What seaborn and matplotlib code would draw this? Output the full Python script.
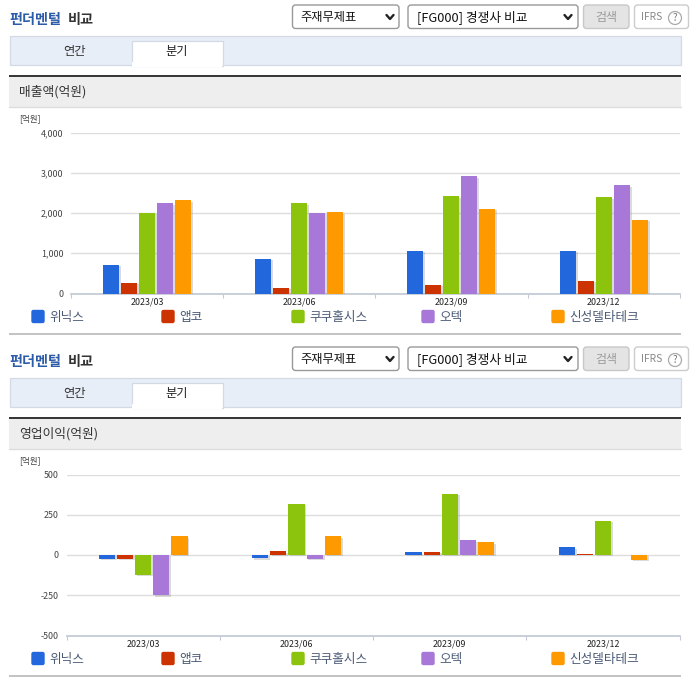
import matplotlib
matplotlib.use("Agg")
import matplotlib.pyplot as plt
import matplotlib.patheffects as pe
from matplotlib.patches import FancyBboxPatch, Rectangle, Circle
import numpy as np
import pandas as pd
import seaborn as sns

sns.set_theme(style="white")
plt.rcParams['font.family'] = ['Noto Sans CJK KR', 'DejaVu Sans']

# Data
quarters = ["2023/03", "2023/06", "2023/09", "2023/12"]
companies = ["위닉스", "앱코", "쿠쿠홀시스", "오텍", "신성델타테크"]
colors = ["#2268DC", "#CC3300", "#8BC30D", "#A878D8", "#FF9900"]

sales_winix = [710, 870, 1065, 1065]
sales_abko = [265, 140, 210, 310]
sales_cuckoo = [2000, 2240, 2420, 2390]
sales_otec = [2240, 2000, 2920, 2690]
sales_shinsung = [2320, 2020, 2110, 1835]

profit_winix = [-22, -20, 17, 48]
profit_abko = [-25, 23, 18, 5]
profit_cuckoo = [-122, 317, 381, 212]
profit_otec = [-250, -25, 92, np.nan]
profit_shinsung = [117, 117, 79, -31]

sales_ticks = [0, 1000, 2000, 3000, 4000]
profit_ticks = [-500, -250, 0, 250, 500]

W, H = 696, 684


def make_frame(series):
    rows = []
    for name, vals in zip(companies, series):
        for q, v in zip(quarters, vals):
            rows.append({"quarter": q, "company": name, "value": v})
    return pd.DataFrame(rows)


def round_box(ax, x, y, w, h, fc="white", ec="#aaaaaa", r=3):
    ax.add_patch(FancyBboxPatch((x + r, y + r), w - 2 * r, h - 2 * r,
                                boxstyle=f"round,pad={r},rounding_size={r}",
                                fc=fc, ec=ec, lw=1))


def chevron(ax, x, y):
    ax.plot([x - 3.5, x, x + 3.5], [y - 2, y + 2, y - 2], color="#222222", lw=1.7)


def draw_page(ax, dy, metric):
    # header row
    ax.text(9, 20 + dy, "펀더멘털", color="#2C5BA8", fontsize=10.2, fontweight="bold", va="center")
    ax.text(68, 20 + dy, "비교", color="#333333", fontsize=10.2, fontweight="bold", va="center")

    round_box(ax, 292.5, 5 + dy, 106.5, 23.5, ec="#999999")
    ax.text(300, 17 + dy, "주재무제표", color="#111111", fontsize=8.8, va="center")
    chevron(ax, 390, 17 + dy)
    round_box(ax, 408, 5 + dy, 170, 23.5, ec="#999999")
    ax.text(417, 17 + dy, "[FG000] 경쟁사 비교", color="#111111", fontsize=9.2, va="center")
    chevron(ax, 568, 17 + dy)
    round_box(ax, 583.5, 5 + dy, 45.5, 23.5, fc="#E4E4E4", ec="#C8C8C8")
    ax.text(606, 17 + dy, "검색", color="#9A9A9A", fontsize=8.6, ha="center", va="center")
    round_box(ax, 634.5, 5 + dy, 54, 23.5, ec="#CCCCCC")
    ax.text(641, 17 + dy, "IFRS", color="#888888", fontsize=7.4, va="center")
    ax.add_patch(Circle((675, 18 + dy), 6.5, fc="white", ec="#AAAAAA", lw=0.9))
    ax.text(675, 18 + dy, "?", color="#777777", fontsize=7, ha="center", va="center")

    # tab strip
    ax.add_patch(Rectangle((9.5, 35.5 + dy), 671.5, 29, fc="#E8EEF7", ec="#D3DAE4", lw=0.9))
    ax.add_patch(Rectangle((131.5, 40.5 + dy), 91, 25, fc="white", ec="#D3DAE4", lw=0.9))
    ax.add_patch(Rectangle((132, 62 + dy), 90, 5, fc="white", ec="none"))
    ax.text(74, 51 + dy, "연간", color="#333333", fontsize=8.8, ha="center", va="center")
    ax.text(177, 51 + dy, "분기", color="#222222", fontsize=8.8, ha="center", va="center")

    # metric title band
    ax.add_patch(Rectangle((9, 77 + dy), 672, 30, fc="#EEEEEE", ec="none"))
    ax.plot([9, 681], [107 + dy, 107 + dy], color="#DDDDDD", lw=1)
    ax.add_patch(Rectangle((9, 75 + dy), 672, 2, fc="#383838", ec="none"))
    ax.text(19, 92 + dy, metric, color="#333333", fontsize=9.2, va="center")
    ax.text(19, 119 + dy, "[억원]", color="#444444", fontsize=6.2, va="center")

    # legend row
    for i, (name, col) in enumerate(zip(companies, colors)):
        x0 = 32 + 130 * i
        round_box(ax, x0, 310.5 + dy, 12, 12, fc=col, ec=col, r=1.5)
        ax.text(x0 + 17, 317 + dy, name, color="#4A5A75", fontsize=9.1, va="center")

    # bottom rule
    ax.add_patch(Rectangle((9, 333 + dy), 672, 2, fc="#C4C4C4", ec="none"))


def draw_chart(fig, left, right, top, bottom, series, ticks):
    ax = fig.add_axes([left / W, 1 - bottom / H, (right - left) / W, (bottom - top) / H])
    ax.patch.set_alpha(0)
    df = make_frame(series)
    sns.barplot(data=df, x="quarter", y="value", hue="company", order=quarters,
                hue_order=companies, palette=colors, saturation=1, width=0.592, gap=0.11,
                errorbar=None, legend=False, linewidth=0, ax=ax, zorder=3)
    for bar in ax.patches:
        bar.set_path_effects([pe.SimplePatchShadow(offset=(1.4, -1), shadow_rgbFace="#999999", alpha=0.35),
                              pe.Normal()])
    ax.set_xlim(-0.5, 3.5)
    ax.set_ylim(ticks[0], ticks[-1])
    ax.set_xlabel("")
    ax.set_ylabel("")
    ax.set_yticks(ticks)
    ax.set_yticklabels([f"{v:,}" for v in ticks], color="#444444", fontsize=6.4)
    ax.tick_params(axis="y", length=0, pad=5.5)
    ax.set_xticks(range(len(quarters)))
    ax.set_xticklabels(quarters, color="#222222", fontsize=6.4)
    ax.tick_params(axis="x", which="major", length=0, pad=3)
    ax.set_xticks(np.arange(-0.5, 4), minor=True)
    ax.tick_params(axis="x", which="minor", length=3, width=0.8, color="#C3CAD5", bottom=True)
    ax.grid(axis="y", color="#DDDDDD", lw=1)
    ax.set_axisbelow(True)
    sns.despine(ax=ax, left=True)
    ax.spines["bottom"].set_color("#C3CAD5")
    return ax


fig = plt.figure(figsize=(W / 100, H / 100), dpi=100, facecolor="white")
page = fig.add_axes([0, 0, 1, 1])
page.set_xlim(0, W)
page.set_ylim(H, 0)
page.axis("off")

draw_page(page, 0, "매출액(억원)")
draw_page(page, 342, "영업이익(억원)")

draw_chart(fig, 71, 679.7, 132.7, 293.5,
           [sales_winix, sales_abko, sales_cuckoo, sales_otec, sales_shinsung], sales_ticks)
draw_chart(fig, 66.5, 679.7, 474.5, 635.5,
           [profit_winix, profit_abko, profit_cuckoo, profit_otec, profit_shinsung], profit_ticks)

fig.savefig("out.png", dpi=100)
